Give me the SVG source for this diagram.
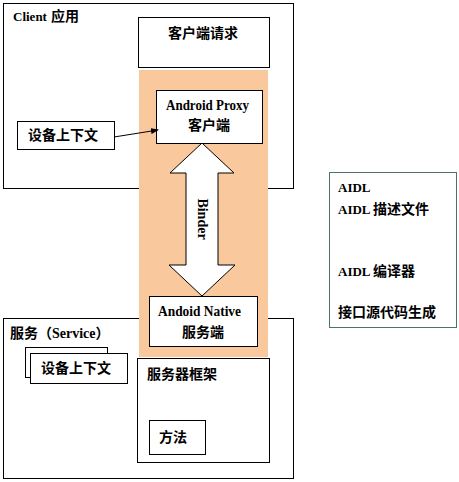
<svg xmlns="http://www.w3.org/2000/svg" width="459" height="482" viewBox="0 0 459 482">
  <style>
    .box { fill: #ffffff; stroke: #000000; stroke-width: 1; }
    .t { font-family: "Liberation Serif", "Noto Sans CJK SC", serif; font-weight: bold; font-size: 14px; fill: #000000; }
    .l { font-size: 13px; }
    .c { text-anchor: middle; }
    .conn { fill: none; stroke: #000000; stroke-width: 1; }
  </style>
  <defs>
    <marker id="ah" markerWidth="8" markerHeight="6" refX="7" refY="3" orient="auto" markerUnits="userSpaceOnUse">
      <path d="M0,0 L8,3 L0,6 Z" fill="#000000"/>
    </marker>
  </defs>
  <rect width="459" height="482" fill="#ffffff"/>

  <g id="client-app">
    <rect class="box" x="3.5" y="3.5" width="290" height="185"/>
    <text class="t" y="21"><tspan class="l" x="13">Client</tspan><tspan x="51">应用</tspan></text>
  </g>

  <g id="service-app">
    <rect class="box" x="3.5" y="318.5" width="290" height="160"/>
    <text class="t" x="10" y="338" font-size="12.5">服务（Service）</text>
  </g>

  <g id="binder-channel">
    <rect x="139" y="70" width="129" height="287" fill="#f9c89c"/>
  </g>

  <g id="client-request">
    <rect class="box" x="138.5" y="17.5" width="131" height="50"/>
    <text class="t c" x="203" y="38">客户端请求</text>
  </g>

  <g id="android-proxy">
    <rect class="box" x="156.5" y="90.5" width="106" height="53"/>
    <text class="t" x="166" y="110" font-size="13.5" textLength="83" lengthAdjust="spacingAndGlyphs">Android Proxy</text>
    <text class="t c" x="209" y="130">客户端</text>
  </g>

  <g id="client-context">
    <rect class="box" x="17.5" y="121.5" width="97" height="28"/>
    <text class="t c" x="63" y="140">设备上下文</text>
  </g>

  <g id="native-service">
    <rect class="box" x="149.5" y="296.5" width="108" height="50"/>
    <text class="t" x="158" y="316" font-size="13.5" textLength="83" lengthAdjust="spacingAndGlyphs">Andoid Native</text>
    <text class="t c" x="203" y="337">服务端</text>
  </g>

  <g id="service-context">
    <rect class="box" x="25.5" y="347.5" width="82" height="30"/>
    <rect class="box" x="30.5" y="353.5" width="97" height="30"/>
    <text class="t" x="41" y="373">设备上下文</text>
  </g>

  <g id="server-framework">
    <rect class="box" x="137.5" y="358.5" width="132" height="104"/>
    <text class="t" x="147" y="379">服务器框架</text>
  </g>

  <g id="method">
    <rect class="box" x="149.5" y="420.5" width="56" height="34"/>
    <text class="t" x="159" y="442">方法</text>
  </g>

  <g id="aidl">
    <rect x="329.5" y="172.5" width="127" height="155" fill="#ffffff" stroke="#4a7566" stroke-width="1"/>
    <text class="t l" x="338" y="192">AIDL</text>
    <text class="t" y="214"><tspan class="l" x="338">AIDL</tspan><tspan x="373">描述文件</tspan></text>
    <text class="t" y="276"><tspan class="l" x="338">AIDL</tspan><tspan x="373">编译器</tspan></text>
    <text class="t" x="338" y="317">接口源代码生成</text>
  </g>

  <g id="connectors">
    <line class="conn" x1="114" y1="137" x2="158" y2="130" marker-end="url(#ah)"/>
    <polygon points="202,143 234,173 218,173 218,265 235,265 202,296 169,265 186,265 186,173 170,173" fill="#ffffff" stroke="#000000" stroke-width="1"/>
    <text class="t c" font-size="13" transform="translate(198,219) rotate(90)">Binder</text>
  </g>
</svg>
